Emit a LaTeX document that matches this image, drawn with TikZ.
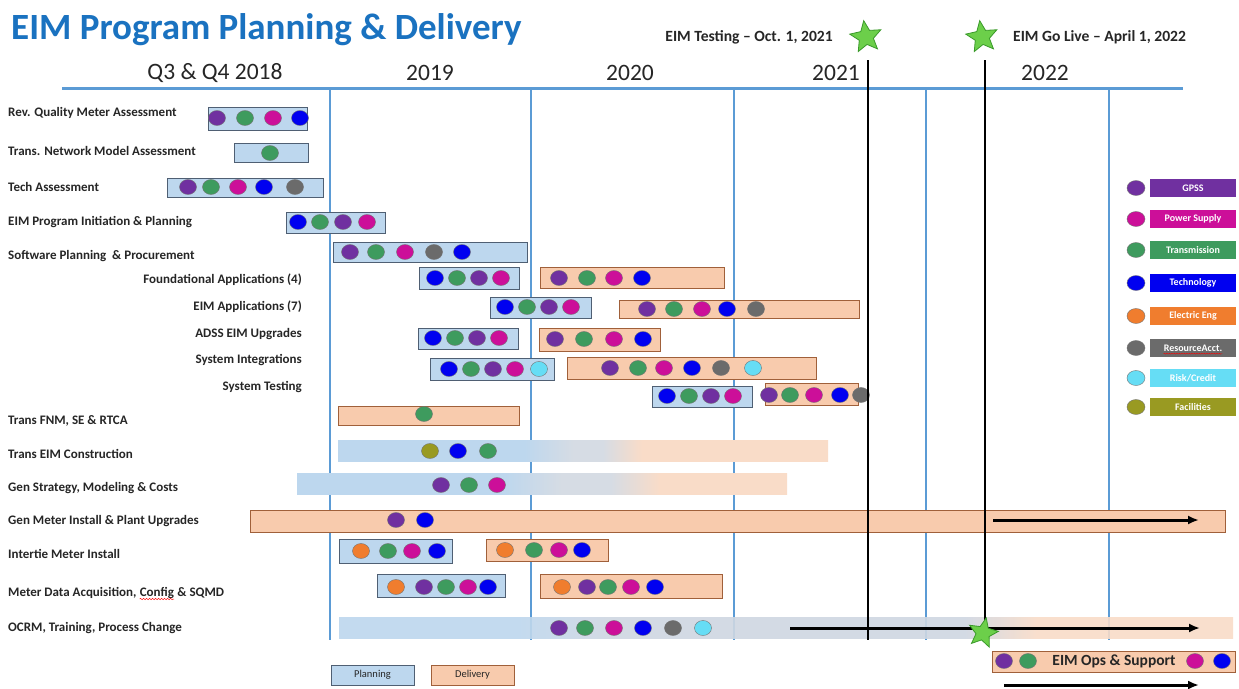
\documentclass[tikz,border=0pt]{standalone}
\usepackage{fontspec}
\setmainfont{Carlito}
\usetikzlibrary{shapes.geometric,arrows.meta,decorations.pathmorphing}

\definecolor{cPur}{HTML}{7030A0}
\definecolor{cGrn}{HTML}{3E9B5E}
\definecolor{cMag}{HTML}{CC0F99}
\definecolor{cBlu}{HTML}{0000F0}
\definecolor{cGry}{HTML}{6B6B6B}
\definecolor{cOrg}{HTML}{F07D2E}
\definecolor{cCyn}{HTML}{66DDF5}
\definecolor{cOlv}{HTML}{999A22}
\definecolor{planFill}{HTML}{BDD7EE}
\definecolor{planLine}{HTML}{4F5F73}
\definecolor{delFill}{HTML}{F8CBAD}
\definecolor{delLine}{HTML}{A0603A}
\definecolor{gridBlue}{HTML}{5B9BD5}
\definecolor{titleBlue}{HTML}{1A72C0}
\definecolor{txt}{HTML}{262626}
\definecolor{starFill}{HTML}{6CCF4A}
\definecolor{starLine}{HTML}{3A9A2A}
\definecolor{midGray}{HTML}{D6DCE4}
\definecolor{peachLt}{HTML}{F9DCC8}
\definecolor{ocrmGray}{HTML}{CFD7E2}

% fading bars: planning (blue) turning into delivery (peach)
\pgfdeclarehorizontalshading{constrShade}{100bp}{color(0bp)=(planFill); color(25bp)=(planFill); color(44bp)=(planFill); color(49bp)=(midGray); color(52bp)=(midGray); color(56bp)=(peachLt); color(75bp)=(peachLt); color(100bp)=(peachLt)}
\pgfdeclarehorizontalshading{genShade}{100bp}{color(0bp)=(planFill); color(25bp)=(planFill); color(46bp)=(planFill); color(52bp)=(midGray); color(57bp)=(midGray); color(62bp)=(peachLt); color(75bp)=(peachLt); color(100bp)=(peachLt)}
\pgfdeclarehorizontalshading{ocrmShade}{100bp}{color(0bp)=(planFill); color(25bp)=(planFill); color(35bp)=(planFill); color(40bp)=(ocrmGray); color(60bp)=(ocrmGray); color(64bp)=(peachLt); color(75bp)=(peachLt); color(100bp)=(peachLt)}

\newcommand\spots[2]{\foreach \px/\pc in {#2}{\filldraw[spot,fill=\pc] (\px,#1) ellipse [x radius=8.5pt, y radius=7.5pt];}}

\begin{document}
\begin{tikzpicture}[x=1pt,y=-1pt,
  plan/.style={fill=planFill, draw=planLine, line width=0.8pt},
  deliv/.style={fill=delFill, draw=delLine, line width=0.8pt},
  rowlbl/.style={font=\bfseries\fontsize{13}{15}\selectfont, text=txt, inner sep=0pt},
  year/.style={font=\fontsize{23.5}{28}\selectfont, text=txt, inner sep=0pt},
  gridline/.style={gridBlue, line width=2.2pt},
  mileline/.style={black, line width=2.5pt},
  spot/.style={draw=black!55, line width=0.4pt},
  milestar/.style={star, star points=5, star point ratio=2.2, fill=starFill, draw=starLine, line width=0.8pt, minimum size=33pt, inner sep=0pt, rotate=8},
  miletext/.style={font=\bfseries\fontsize{15.6}{18}\selectfont, text=txt, inner sep=0pt},
  longarrow/.style={-{Latex[length=11pt,width=9pt]}, line width=3pt, black},
  legbox/.style={minimum width=86pt, minimum height=18pt, inner sep=0pt},
  legtext/.style={inner sep=0pt, text=white, font=\bfseries\fontsize{10}{12}\selectfont},
  keybox/.style={minimum width=83pt, minimum height=20pt, inner sep=0pt, text=txt, font=\fontsize{10.5}{12}\selectfont},
  spell/.style={red, line width=0.5pt, decorate, decoration={snake, amplitude=0.7pt, segment length=3pt}}
]
\useasboundingbox (0,0) rectangle (1239,688);
\fill[white] (0,0) rectangle (1239,688);

% title and time axis
\node[anchor=west, font=\bfseries\fontsize{37}{44}\selectfont, text=titleBlue, inner sep=0pt] (title) at (11,30) {EIM Program Planning \& Delivery};
\node[year] (y18) at (215,73) {Q3 \& Q4 2018};
\node[year] (y19) at (430,73) {2019};
\node[year] (y20) at (630,73) {2020};
\node[year] (y21) at (836,73) {2021};
\node[year] (y22) at (1045,73) {2022};

\draw[gridline, line width=3pt] (62,88) -- (1183,88);
\foreach \gx in {330,531,734,926,1109}{\draw[gridline] (\gx,88) -- (\gx,640);}

% row labels
\node[rowlbl, anchor=west] (r1) at (8,113) {Rev. Quality Meter Assessment};
\node[rowlbl, anchor=west] (r2) at (8,151) {Trans. Network Model Assessment};
\node[rowlbl, anchor=west] (r3) at (8,187) {Tech Assessment};
\node[rowlbl, anchor=west] (r4) at (8,222) {EIM Program Initiation \& Planning};
\node[rowlbl, anchor=west] (r5) at (8,256) {Software Planning~ \& Procurement};
\node[rowlbl, anchor=east] (r6) at (302,280) {Foundational Applications (4)};
\node[rowlbl, anchor=east] (r7) at (302,307) {EIM Applications (7)};
\node[rowlbl, anchor=east] (r8) at (302,334) {ADSS EIM Upgrades};
\node[rowlbl, anchor=east] (r9) at (302,360) {System Integrations};
\node[rowlbl, anchor=east] (r10) at (302,387) {System Testing};
\node[rowlbl, anchor=west] (r11) at (8,421) {Trans FNM, SE \& RTCA};
\node[rowlbl, anchor=west] (r12) at (8,454) {Trans EIM Construction};
\node[rowlbl, anchor=west] (r13) at (8,488) {Gen Strategy, Modeling \& Costs};
\node[rowlbl, anchor=west] (r14) at (8,521) {Gen Meter Install \& Plant Upgrades};
\node[rowlbl, anchor=west] (r15) at (8,554) {Intertie Meter Install};
\node[rowlbl, anchor=base west] (r16a) at (8,596) {Meter Data Acquisition,};
\node[rowlbl, anchor=base west] (r16b) at ([xshift=3pt]r16a.base east) {Config};
\node[rowlbl, anchor=base west] (r16c) at ([xshift=3pt]r16b.base east) {\& SQMD};
\draw[spell] ([yshift=-3pt]r16b.base west) -- ([yshift=-3pt]r16b.base east);
\node[rowlbl, anchor=west] (r17) at (8,628) {OCRM, Training, Process Change};

% assessments and initiation
\draw[plan] (208,107) rectangle (307,130);
\spots{118}{217/cPur,245/cGrn,273/cMag,300/cBlu}
\draw[plan] (234,143) rectangle (308,162);
\spots{153}{270/cGrn}
\draw[plan] (167,178) rectangle (323,197);
\spots{187}{188/cPur,211/cGrn,238/cMag,264/cBlu,295/cGry}
\draw[plan] (286,212) rectangle (385,233);
\spots{222}{298/cBlu,320/cGrn,343/cPur,367/cMag}
\draw[plan] (333,242) rectangle (527,262);
\spots{252}{350/cPur,376/cGrn,405/cMag,434/cGry,462/cBlu}

% software streams
\draw[plan] (419,267) rectangle (519,289);
\spots{278}{435/cBlu,457/cGrn,479/cPur,501/cMag}
\draw[deliv] (540,267) rectangle (724,288);
\spots{278}{559/cPur,587/cGrn,614/cMag,642/cBlu}

\draw[plan] (490,297) rectangle (591,318);
\spots{307}{505/cBlu,527/cGrn,549/cPur,571/cMag}
\draw[deliv] (619,300) rectangle (859,318);
\spots{309}{647/cPur,674/cGrn,702/cMag,727/cBlu,756/cGry}

\draw[plan] (418,328) rectangle (518,349);
\spots{338}{433/cBlu,455/cGrn,477/cPur,499/cMag}
\draw[deliv] (539,328) rectangle (660,351);
\spots{339}{555/cPur,584/cGrn,614/cMag,643/cBlu}

\draw[plan] (430,358) rectangle (554,380);
\spots{369}{449/cBlu,471/cGrn,493/cPur,515/cMag,539/cCyn}
\draw[deliv] (567,357) rectangle (816,379);
\spots{368}{610/cPur,638/cGrn,664/cMag,692/cBlu,721/cGry,753/cCyn}

\draw[plan] (652,386) rectangle (752,407);
\spots{396}{667/cBlu,689/cGrn,711/cPur,733/cMag}
\draw[deliv] (765,383) rectangle (858,405);
\spots{395}{769/cPur,790/cGrn,814/cMag,840/cBlu,861/cGry}

% transmission and generation
\draw[deliv] (338,406) rectangle (519,425);
\spots{414}{424/cGrn}

\shade[shading=constrShade] (338,440) rectangle (828,461);
\spots{451}{430/cOlv,458/cBlu,488/cGrn}

\shade[shading=genShade] (297,473) rectangle (787,494);
\spots{485}{441/cPur,469/cGrn,497/cMag}

\draw[deliv] (250,510) rectangle (1225,532);
\spots{520}{396/cPur,425/cBlu}

% meters
\draw[plan] (339,539) rectangle (452,563);
\spots{551}{361/cOrg,388/cGrn,412/cMag,437/cBlu}
\draw[deliv] (486,539) rectangle (608,561);
\spots{550}{505/cOrg,534/cGrn,559/cMag,582/cBlu}

\draw[plan] (377,574) rectangle (505,597);
\spots{587}{396/cOrg,424/cPur,446/cGrn,468/cMag,488/cBlu}
\draw[deliv] (540,574) rectangle (722,598);
\spots{587}{562/cOrg,587/cPur,608/cGrn,631/cMag,655/cBlu}

% change management
\shade[shading=ocrmShade, opacity=0.9] (339,617) rectangle (1233,638);
\spots{628}{559/cPur,585/cGrn,614/cMag,643/cBlu,673/cGry,703/cCyn}

% milestone lines
\draw[mileline] (868,60) -- (868,640);
\draw[mileline] (985,60) -- (985,628);

\node[milestar] (stTest) at (866,37) {};
\node[milestar] (stLive) at (982,37) {};
\node[miletext, anchor=east] (mTest) at (833,37) {EIM Testing -- Oct. 1, 2021};
\node[miletext, anchor=west] (mLive) at (1013,37) {EIM Go Live -- April 1, 2022};

% ongoing arrows
\coordinate (gA) at (993,520);
\coordinate (gB) at (1199,520);
\draw[longarrow] (gA) -- (gB);
\coordinate (oA) at (790,628);
\coordinate (oB) at (1200,628);
\draw[longarrow] (oA) -- (oB);
\node[milestar, minimum size=31pt, rotate=-20] (stOps) at (983,633) {};

% operations after go live
\draw[deliv] (992,651) rectangle (1235,672);
\spots{661}{1004/cPur,1028/cGrn,1195/cMag,1222/cBlu}
\node[font=\bfseries\fontsize{15.5}{18}\selectfont, text=txt, inner sep=0pt] (ops) at (1114,661) {EIM Ops \& Support};
\coordinate (sA) at (1004,685);
\coordinate (sB) at (1199,685);
\draw[longarrow] (sA) -- (sB);

% key
\node[keybox, fill=planFill, draw=planLine, line width=0.8pt] (kPlan) at (372.5,675) {Planning};
\node[keybox, fill=delFill, draw=delLine, line width=0.8pt] (kDel) at (472.5,675) {Delivery};

% legend of teams
\foreach \ly/\lc/\lt/\ln in {188/cPur/GPSS/l1, 219/cMag/Power Supply/l2, 250/cGrn/Transmission/l3, 283/cBlu/Technology/l4, 316/cOrg/Electric Eng/l5, 348/cGry/ResourceAcct./l6, 378/cCyn/Risk\slash Credit/l7, 407/cOlv/Facilities/l8}{
  \filldraw[spot, fill=\lc] (1136,\ly) ellipse [x radius=9pt, y radius=7.5pt];
  \node[legbox, fill=\lc] (\ln) at (1193,\ly) {};
  \node[legtext] (\ln t) at (\ln) {\lt};
}
\draw[spell, line width=0.4pt, decoration={snake, amplitude=0.5pt, segment length=2.5pt}] ([yshift=-2.5pt]l6t.base west) -- ([yshift=-2.5pt]l6t.base east);
\end{tikzpicture}
\end{document}
